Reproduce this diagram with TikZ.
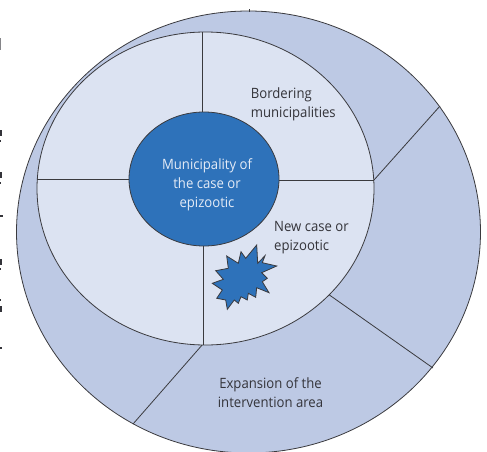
\documentclass[tikz,border=0pt]{standalone}
\usepackage{fontspec}
\setmainfont[FakeStretch=0.925]{Open Sans}
\usetikzlibrary{shapes.geometric}
\definecolor{outerblue}{HTML}{BDC9E4}
\definecolor{innerblue}{HTML}{DCE3F2}
\definecolor{coreblue}{HTML}{2E72BA}
\definecolor{linegray}{HTML}{3A3A3E}
\definecolor{textgray}{HTML}{34343A}
\definecolor{coretext}{HTML}{E4EBF6}
\tikzset{
  ring/.style={ellipse,draw=linegray,line width=0.8pt,inner sep=0,outer sep=0},
  spoke/.style={draw=linegray,line width=0.8pt},
  lbl/.style={align=center,text=textgray,font=\fontsize{14.2}{19}\selectfont,inner sep=0},
  lbll/.style={lbl,align=left},
  corelbl/.style={lbl,text=coretext},
  crumb/.style={fill=textgray,draw=none}
}
\begin{document}
\begin{tikzpicture}[x=1pt,y=-1pt]
\useasboundingbox (0,0) rectangle (487,452);
\clip (0,0) rectangle (487,452);
\node[ring,fill=outerblue,minimum width=464pt,minimum height=442pt] (outer) at (248.5,232) {};
\coordinate (otick) at (249,9.5);
\coordinate (o1) at (440,106);
\coordinate (o2) at (433,368);
\coordinate (o3) at (133,424);
\coordinate (i1) at (374,180);
\coordinate (i2) at (328,294);
\coordinate (i3) at (203,344);
\draw[spoke] (i1) -- (o1);
\draw[spoke] (i2) -- (o2);
\draw[spoke] (i3) -- (o3);
\draw[line width=0.5pt,draw=linegray] (otick) -- (249,12);
\node[ring,fill=innerblue,minimum width=337pt,minimum height=313pt] (inner) at (205.5,188.5) {};
\node[ring,fill=coreblue,minimum width=150pt,minimum height=134pt] (core) at (204,179) {};
\coordinate (it) at (202.5,32);
\coordinate (ib) at (203,344.5);
\coordinate (il) at (37,179);
\draw[spoke] (it) -- (core.north -| it);
\draw[spoke] (core.south -| ib) -- (ib);
\draw[spoke] (il) -- (core.west |- il);
\draw[spoke] (core.east |- i1) -- (i1);
\draw[line width=0.8pt,draw=linegray,fill=coreblue,line join=miter,miter limit=10]
 (226.7,256)--(238.3,263.3)--(241,251.7)--(245.7,258.3)--(256.7,245)--(257.7,263.3)--(265,255.7)--(262.3,262.7)--(276.7,266)--(261.7,272.7)--(267.3,278.3)--(262.3,281.7)--(269,292.7)--(256.7,287.7)--(255.7,297.3)--(248.3,293.3)--(247.3,300)--(241,296.7)--(238.3,303.3)--(234.3,300)--(227.3,309.3)--(225.7,300)--(216.7,298.3)--(222.3,290)--(212.3,283.3)--(223.3,279.3)--(215.7,270.7)--(228.3,268.3)--cycle;
\node[corelbl] (tcore) at (207,184.5) {Municipality of\\the case or\\epizootic};
\node[lbll,anchor=west] (tborder) at (250.7,104.5) {Bordering\\municipalities};
\node[lbll,anchor=west] (tnew) at (274,237.5) {New case or\\epizootic};
\node[lbl] (texp) at (270.5,393) {Expansion of the\\intervention area};
% cropped fragments of neighbouring text at the left edge
\fill[textgray!60] (0,38) rectangle (1,50);
\fill[crumb] (0,130) rectangle (1.5,136);
\fill[crumb] (0,140) rectangle (1,142);
\fill[crumb] (0,172) rectangle (1.5,178);
\fill[crumb] (0,182) rectangle (1,184);
\fill[crumb] (0,215) rectangle (3,217);
\fill[crumb] (0,259) rectangle (1.5,265);
\fill[crumb] (0,268) rectangle (1,270);
\fill[crumb] (0,299) rectangle (1,301);
\fill[crumb] (0,306) rectangle (1.5,312);
\fill[crumb] (0,347) rectangle (2,349);
\end{tikzpicture}
\end{document}
